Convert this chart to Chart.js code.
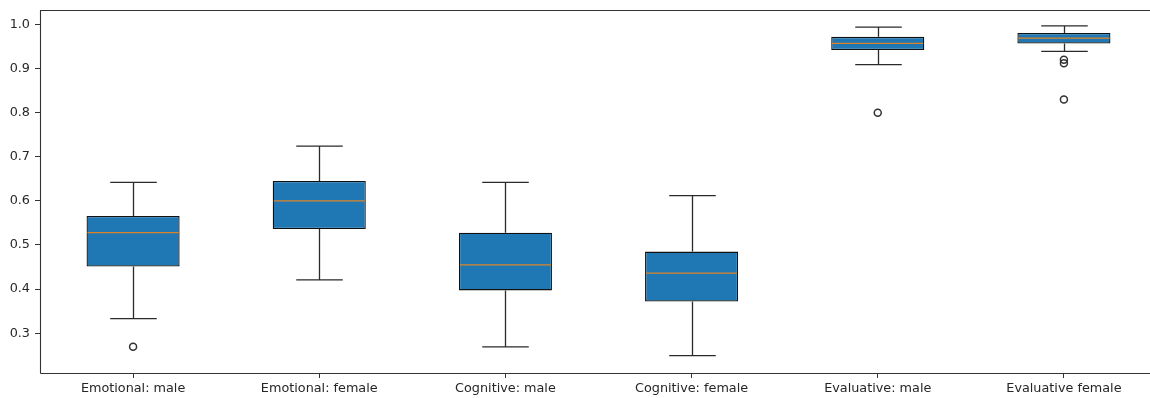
<!DOCTYPE html>
<html>
<head>
<meta charset="utf-8">
<script src="https://cdn.jsdelivr.net/npm/chart.js@4/dist/chart.umd.min.js"></script>
<style>
  html, body { margin: 0; padding: 0; background: #fff; overflow: hidden; }
  #wrap { width: 1150px; height: 398px; overflow: hidden; }
  #box { display: block; }
</style>
</head>
<body>
<div id="wrap"><canvas id="box" width="1160" height="398"></canvas></div>
<script>
// Score distributions per group
const categories = ['Emotional: male', 'Emotional: female', 'Cognitive: male', 'Cognitive: female', 'Evaluative: male', 'Evaluative female'];
const whiskerLow  = [0.333, 0.421, 0.269, 0.249, 0.909, 0.939];
const q1          = [0.451, 0.536, 0.397, 0.372, 0.942, 0.957];
const median      = [0.528, 0.600, 0.455, 0.436, 0.957, 0.969];
const q3          = [0.566, 0.645, 0.528, 0.485, 0.972, 0.981];
const whiskerHigh = [0.642, 0.724, 0.642, 0.612, 0.994, 0.997];
const outliers    = [[0.269], [], [], [], [0.800], [0.920, 0.912, 0.830]];
const yTicks      = [0.3, 0.4, 0.5, 0.6, 0.7, 0.8, 0.9, 1.0];

const INK = '#262626';
const FONT = { family: 'DejaVu Sans', size: 12.8 };

const boxData = categories.map((c, i) => [q1[i], q3[i]]);
const flierData = [];
outliers.forEach((list, i) => list.forEach(v => flierData.push({ x: categories[i], y: v })));

// Whiskers, caps, medians and the axes frame
const boxExtras = {
  id: 'boxExtras',
  afterDatasetsDraw(chart) {
    const ctx = chart.ctx;
    const y = chart.scales.y;
    const bars = chart.getDatasetMeta(0).data;
    ctx.save();
    bars.forEach((bar, i) => {
      const cx = Math.round(bar.x) + 0.5;
      const half = bar.width / 2;
      const cap = half / 2;
      const yHi = y.getPixelForValue(whiskerHigh[i]);
      const yQ3 = y.getPixelForValue(q3[i]);
      const yQ1 = y.getPixelForValue(q1[i]);
      const yLo = y.getPixelForValue(whiskerLow[i]);
      ctx.strokeStyle = '#2a2a2a';
      ctx.lineWidth = 1.3;
      ctx.beginPath();
      ctx.moveTo(cx, yQ3); ctx.lineTo(cx, yHi);
      ctx.moveTo(cx - cap, yHi); ctx.lineTo(cx + cap, yHi);
      ctx.moveTo(cx, yQ1); ctx.lineTo(cx, yLo);
      ctx.moveTo(cx - cap, yLo); ctx.lineTo(cx + cap, yLo);
      ctx.stroke();
      const yMed = y.getPixelForValue(median[i]);
      ctx.strokeStyle = '#dc8528';
      ctx.lineWidth = 1.2;
      ctx.beginPath();
      ctx.moveTo(bar.x - half + 1, yMed); ctx.lineTo(bar.x + half - 1, yMed);
      ctx.stroke();
    });
    ctx.restore();
  },
  afterDraw(chart) {
    const a = chart.chartArea;
    const ctx = chart.ctx;
    const l = Math.round(a.left) + 0.5, t = Math.round(a.top) + 0.5, b = Math.round(a.bottom) + 0.5;
    ctx.save();
    ctx.strokeStyle = '#333';
    ctx.lineWidth = 1.1;
    ctx.beginPath();
    ctx.moveTo(l, b); ctx.lineTo(l, t); ctx.lineTo(a.right, t);
    ctx.moveTo(l, b); ctx.lineTo(a.right, b);
    ctx.stroke();
    ctx.restore();
  }
};

new Chart(document.getElementById('box'), {
  type: 'bar',
  data: {
    labels: categories,
    datasets: [
      {
        label: 'IQR',
        data: boxData,
        backgroundColor: '#1f77b4',
        borderColor: '#111',
        borderWidth: 1.3,
        borderSkipped: false,
        categoryPercentage: 1.0,
        barPercentage: 0.5,
        order: 2
      },
      {
        type: 'line',
        label: 'outliers',
        data: flierData,
        showLine: false,
        pointRadius: 3.5,
        pointBorderWidth: 1.5,
        pointBorderColor: '#333',
        pointBackgroundColor: 'rgba(255,255,255,0)',
        order: 1
      }
    ]
  },
  options: {
    responsive: false,
    animation: false,
    layout: { autoPadding: false, padding: { top: 10, right: 3, left: 0, bottom: 0 } },
    plugins: { legend: { display: false }, tooltip: { enabled: false } },
    scales: {
      x: {
        offset: true,
        grid: { display: true, drawOnChartArea: false, offset: false, tickLength: 5, color: '#333', lineWidth: 1 },
        border: { display: false },
        ticks: { color: INK, padding: 3, maxRotation: 0, autoSkip: false, font: FONT },
        afterFit(s) { s.height = 25; s.paddingLeft = 0; s.paddingRight = 0; }
      },
      y: {
        min: 0.2097,
        max: 1.0329,
        grid: { display: true, drawOnChartArea: false, tickLength: 5, color: '#333', lineWidth: 1 },
        border: { display: false },
        afterBuildTicks(s) { s.ticks = yTicks.map(v => ({ value: v })); },
        ticks: {
          color: INK, padding: 5,
          font: FONT,
          callback: v => Number(v).toFixed(1)
        },
        afterFit(s) { s.width = 40; s.paddingTop = 0; s.paddingBottom = 0; }
      }
    }
  },
  plugins: [boxExtras]
});
</script>
</body>
</html>
